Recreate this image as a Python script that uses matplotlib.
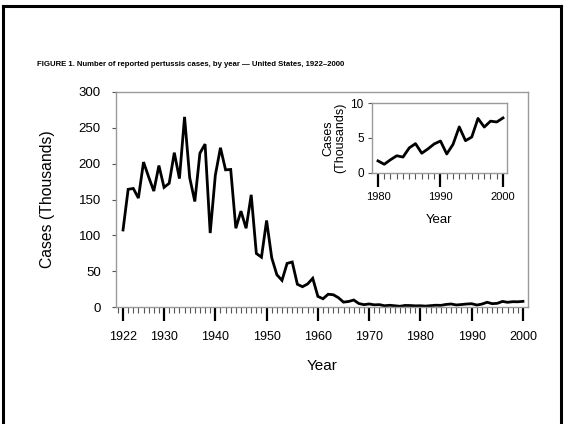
import matplotlib
matplotlib.use("Agg")
import matplotlib.pyplot as plt
from matplotlib.lines import Line2D
from matplotlib.ticker import MultipleLocator, FixedLocator

plt.rcParams['font.family'] = ['Liberation Sans', 'DejaVu Sans']

years = list(range(1922, 2001))
cases = [107.473, 164.191, 165.418, 152.003, 202.210, 181.411, 161.799, 197.371,
         166.914, 172.559, 215.343, 179.135, 265.269, 180.518, 147.237, 214.652,
         227.319, 103.188, 183.866, 222.202, 191.383, 191.890, 109.873, 133.792,
         109.860, 156.517, 74.715, 69.479, 120.718, 68.687, 45.030, 37.129,
         60.886, 62.786, 31.732, 28.295, 32.148, 40.005, 14.809, 11.468,
         17.749, 17.135, 13.005, 6.799, 7.717, 9.718, 4.810, 3.285,
         4.249, 3.036, 3.287, 1.759, 2.402, 1.738, 1.010, 2.177,
         2.063, 1.623, 1.730, 1.248, 1.895, 2.463, 2.276, 3.589,
         4.195, 2.823, 3.450, 4.157, 4.570, 2.719, 4.083, 6.586,
         4.617, 5.137, 7.796, 6.564, 7.405, 7.288, 7.867]

main_xticks = [1922, 1930, 1940, 1950, 1960, 1970, 1980, 1990, 2000]
main_yticks = [0, 50, 100, 150, 200, 250, 300]
inset_start = 1980
inset_xticks = [1980, 1990, 2000]
inset_yticks = [0, 5, 10]

title = "FIGURE 1. Number of reported pertussis cases, by year \u2014 United States, 1922\u20132000"

W, H = 564, 424
fig = plt.figure(figsize=(W / 100, H / 100), dpi=100)
fig.patch.set_facecolor('white')

def fx(px):
    return px / W

def fy(py):
    return 1 - py / H

# outer frame
fig.add_artist(Line2D([fx(3), fx(3)], [fy(6), fy(430)], color='black', lw=2.2, transform=fig.transFigure))
fig.add_artist(Line2D([fx(3), fx(561)], [fy(6), fy(6)], color='black', lw=2.2, transform=fig.transFigure))
fig.add_artist(Line2D([fx(561), fx(561)], [fy(6), fy(430)], color='black', lw=2.2, transform=fig.transFigure))

fig.text(fx(37), fy(65), title, fontsize=5.6, fontweight='bold', ha='left', va='center')

spine_color = '#9a9a9a'

def style_axes(ax, major_len, minor_len, xfs, yfs, xpad, ypad):
    for s in ax.spines.values():
        s.set_color(spine_color)
        s.set_linewidth(1.0)
    ax.tick_params(axis='x', which='major', length=major_len, width=1.6, color='black',
                   labelsize=xfs, pad=xpad)
    ax.tick_params(axis='x', which='minor', length=minor_len, width=0.8, color='#555555')
    ax.tick_params(axis='y', which='major', length=3, width=0.8, color='#555555',
                   labelsize=yfs, pad=ypad)
    ax.tick_params(axis='y', which='minor', length=0)

# main axes
ax = fig.add_axes([fx(116), fy(307), fx(528) - fx(116), fy(92) - fy(307)])
ax.plot(years, cases, color='black', lw=2.0, solid_joinstyle='miter')
ax.set_xlim(1920.63, 2000.98)
ax.set_ylim(0, 300)
ax.xaxis.set_major_locator(FixedLocator(main_xticks))
ax.xaxis.set_minor_locator(MultipleLocator(1))
ax.yaxis.set_major_locator(FixedLocator(main_yticks))
style_axes(ax, 10, 4, 9, 9.5, 7, 8)
ax.set_xlabel('Year', fontsize=11, labelpad=12)
ax.set_ylabel('Cases (Thousands)', fontsize=11.3, labelpad=17)

# inset
i0 = years.index(inset_start)
ix = years[i0:]
iy = cases[i0:]
axi = fig.add_axes([fx(372), fy(173), fx(507) - fx(372), fy(103) - fy(173)])
axi.plot(ix, iy, color='black', lw=2.0)
axi.set_xlim(1979.04, 2000.64)
axi.set_ylim(0, 10)
axi.xaxis.set_major_locator(FixedLocator(inset_xticks))
axi.xaxis.set_minor_locator(MultipleLocator(1))
axi.yaxis.set_major_locator(FixedLocator(inset_yticks))
style_axes(axi, 10, 4, 8, 8.5, 4, 3)
axi.set_xlabel('Year', fontsize=9.5, labelpad=8)
axi.set_ylabel('Cases\n(Thousands)', fontsize=9, labelpad=3, linespacing=0.95)

fig.savefig('out.png', dpi=100, facecolor='white')
